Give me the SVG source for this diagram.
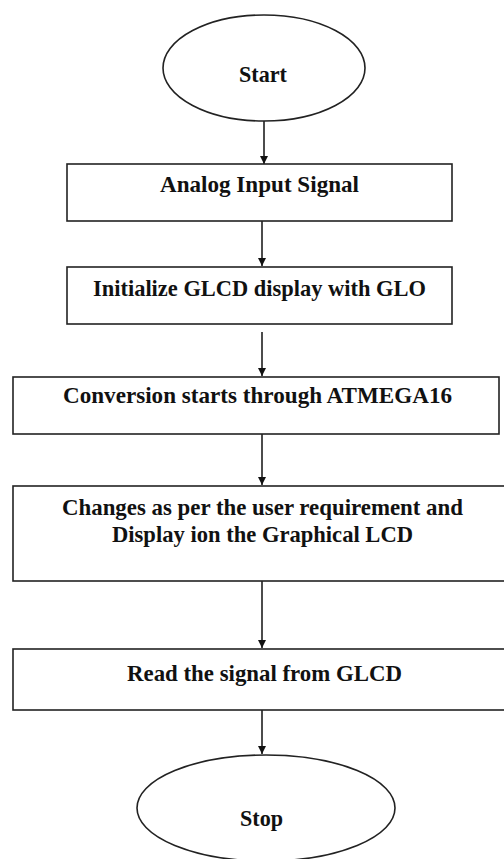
<svg xmlns="http://www.w3.org/2000/svg" width="504" height="859" viewBox="0 0 504 859">
<style>
.shape{fill:#fff;stroke:#222;stroke-width:1.6}
.lbl{font-family:"Liberation Serif","Times New Roman",serif;font-weight:bold;font-size:23px;fill:#111;text-anchor:middle}
.conn{stroke:#111;stroke-width:1.5;fill:none;marker-end:url(#ah)}
</style>
<defs>
<marker id="ah" markerWidth="10" markerHeight="10" refX="8" refY="4" orient="auto" markerUnits="userSpaceOnUse">
<path d="M0,0 L8,4 L0,8 Z" fill="#111"/>
</marker>
</defs>
<rect width="504" height="859" fill="#fff"/>
<g id="connectors">
<line class="conn" x1="264" y1="121" x2="264" y2="164"/>
<line class="conn" x1="262" y1="221" x2="262" y2="266"/>
<line class="conn" x1="262" y1="332" x2="262" y2="376"/>
<line class="conn" x1="262" y1="434" x2="262" y2="485"/>
<line class="conn" x1="262" y1="581" x2="262" y2="648"/>
<line class="conn" x1="262" y1="710" x2="262" y2="754"/>
</g>
<g id="start">
<ellipse class="shape" cx="264" cy="68" rx="101" ry="53"/>
<text class="lbl" x="263" y="82" textLength="48" lengthAdjust="spacingAndGlyphs">Start</text>
</g>
<g id="analog">
<rect class="shape" x="67" y="164" width="385" height="57"/>
<text class="lbl" x="259.5" y="192" textLength="199" lengthAdjust="spacingAndGlyphs">Analog Input Signal</text>
</g>
<g id="init">
<rect class="shape" x="67" y="267" width="385" height="57"/>
<text class="lbl" x="259.5" y="296" textLength="333" lengthAdjust="spacingAndGlyphs">Initialize GLCD display with GLO</text>
</g>
<g id="conversion">
<rect class="shape" x="13" y="377" width="486" height="57"/>
<text class="lbl" x="257.5" y="403" textLength="389" lengthAdjust="spacingAndGlyphs">Conversion starts through ATMEGA16</text>
</g>
<g id="changes">
<rect class="shape" x="13" y="486" width="500" height="95"/>
<text class="lbl" x="262.5" y="515" textLength="401" lengthAdjust="spacingAndGlyphs">Changes as per the user requirement and</text>
<text class="lbl" x="262.5" y="542" textLength="301" lengthAdjust="spacingAndGlyphs">Display ion the Graphical LCD</text>
</g>
<g id="read">
<rect class="shape" x="13" y="649" width="500" height="61"/>
<text class="lbl" x="264.5" y="681" textLength="275" lengthAdjust="spacingAndGlyphs">Read the signal from GLCD</text>
</g>
<g id="stop">
<ellipse class="shape" cx="266" cy="808" rx="129" ry="53"/>
<text class="lbl" x="261.5" y="826" textLength="43" lengthAdjust="spacingAndGlyphs">Stop</text>
</g>
</svg>
